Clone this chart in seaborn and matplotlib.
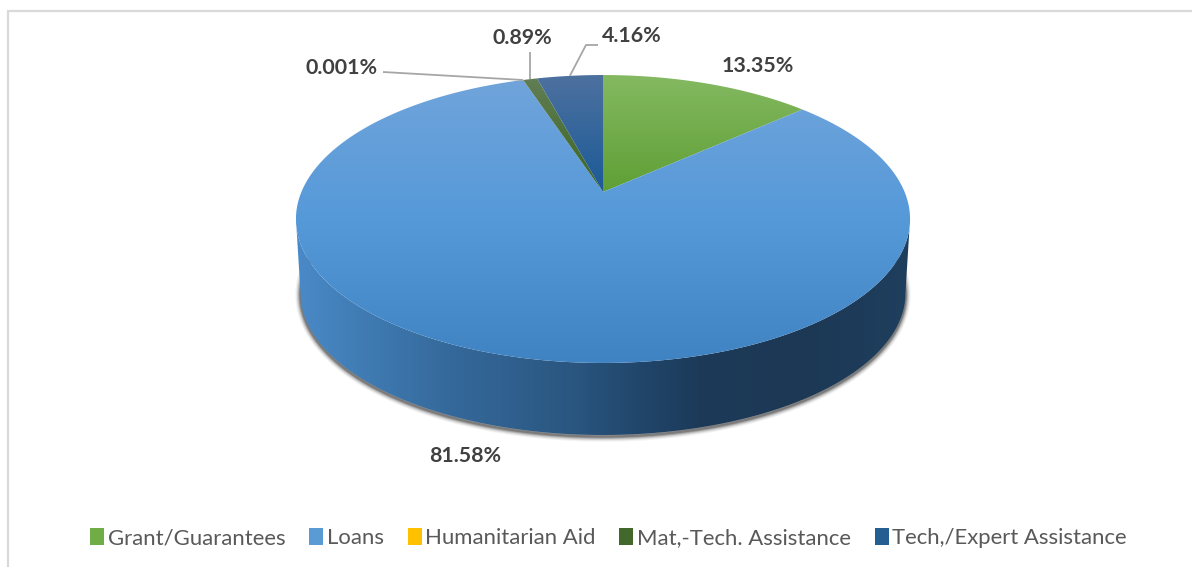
import numpy as np
import matplotlib
matplotlib.use("Agg")
import matplotlib.pyplot as plt
from matplotlib.colors import LinearSegmentedColormap
from matplotlib.patches import Patch, Polygon
import seaborn as sns

# Shares of assistance by type, in percent, clockwise from twelve o'clock
categories = ["Grant/Guarantees", "Loans", "Humanitarian Aid",
              "Mat,-Tech. Assistance", "Tech,/Expert Assistance"]
shares = [13.35, 81.58, 0.001, 0.89, 4.16]
share_labels = ["13.35%", "81.58%", "0.001%", "0.89%", "4.16%"]

base_colors = ["#70ad47", "#5b9bd5", "#ffc000", "#43682b", "#255e91"]
face_ramps = [["#84b961", "#5f9f35"],
              ["#70a4db", "#5599d9", "#4083c3"],
              ["#ffcf4d", "#f0b400"],
              ["#617e55", "#3b6420"],
              ["#4d719f", "#1b5a97"]]
side_ramp = [(0.00, "#4a8ac8"), (0.08, "#427fb8"), (0.25, "#35699b"),
             (0.45, "#2a5680"), (0.56, "#21466b"), (0.66, "#1c3a58"),
             (0.83, "#1c3855"), (1.00, "#1f3f5e")]

sns.set_theme(style="white")
plt.rcParams["font.family"] = ["Lato", "DejaVu Sans"]
palette = sns.color_palette(base_colors)

fig = plt.figure(figsize=(11.92, 5.67), dpi=100)
ax = fig.add_axes([0, 0, 1, 1])
ax.set_axis_off()

# Perspective view of a flat disc: near edge larger than far edge
CX, CY = 603.0, 192.0
TILT = 0.1875
SCALE_X, SCALE_Y = 301.6, 138.9
DEPTH, RIM_SCALE = 74.6, 0.985


def project(theta_deg, radius=1.0, drop=0.0, shrink=1.0):
    """Map clock angles on the unit disc to drawing coordinates (y grows down)."""
    t = np.radians(theta_deg)
    x, y = radius * np.sin(t), radius * np.cos(t)
    w = 1 + TILT * y
    return (CX + shrink * SCALE_X * x / w,
            CY + drop - shrink * SCALE_Y * y / w)


def gradient_fill(poly_xy, ramp, horizontal=False, zorder=3):
    xs, ys = poly_xy[:, 0], poly_xy[:, 1]
    cmap = LinearSegmentedColormap.from_list("ramp", ramp)
    field = np.linspace(0, 1, 512)
    field = field[None, :] if horizontal else field[:, None]
    img = ax.imshow(field, cmap=cmap, vmin=0, vmax=1, aspect="auto",
                    extent=[xs.min(), xs.max(), ys.max(), ys.min()],
                    zorder=zorder, interpolation="bilinear")
    clip = Polygon(poly_xy, closed=True, transform=ax.transData,
                   facecolor="none", edgecolor="none")
    ax.add_patch(clip)
    img.set_clip_path(clip)
    return img


fractions = np.asarray(shares) / np.sum(shares)
edges = np.concatenate([[0.0], np.cumsum(fractions)]) * 360.0

# Soft shadow hugging the lower rim
shadow_t = np.linspace(68, 292, 400)
sx, sy = project(shadow_t, drop=DEPTH + 1.5, shrink=RIM_SCALE)
for width, alpha in zip([7.5, 6, 4.8, 3.6, 2.6, 1.6], [.06, .08, .10, .14, .18, .25]):
    ax.plot(sx, sy, color="#222222", lw=width, alpha=alpha, zorder=1,
            solid_capstyle="butt")

# Visible side wall
lower = np.column_stack(project(np.linspace(100.8, 259.2, 400), drop=DEPTH, shrink=RIM_SCALE))
upper = np.column_stack(project(np.linspace(259.2, 100.8, 400)))
wall = np.vstack([lower, upper])
gradient_fill(wall, [(p, c) for p, c in side_ramp], horizontal=True, zorder=2)

# Top face, one wedge per share
for start, stop, ramp in zip(edges[:-1], edges[1:], face_ramps):
    steps = max(4, int((stop - start) * 3))
    arc = np.column_stack(project(np.linspace(start, stop, steps)))
    wedge = np.vstack([[CX, CY], arc])
    gradient_fill(wedge, ramp, zorder=3)

# Leader lines run from each small slice's rim to its label
mids = (edges[:-1] + edges[1:]) / 2
leader_kw = dict(color="#a6a6a6", lw=1.3, zorder=5, solid_capstyle="butt")
x2, y2 = project(mids[2])
ax.plot([383, x2], [72, y2], **leader_kw)
x3, y3 = project(mids[3])
ax.plot([x3, x3], [52, y3], **leader_kw)
x4, y4 = project(mids[4])
ax.plot([x4, 586, 598], [y4, 45, 45], **leader_kw)

label_spots = [(758, 65.5), (465, 455.5), (342, 67.5), (522, 37.5), (632, 36.5)]
for text, (lx, ly) in zip(share_labels, label_spots):
    ax.text(lx, ly, text, ha="center", va="center", fontsize=15.4,
            fontweight="bold", color="#404040", zorder=6)

# Chart frame, open on the right and bottom
ax.plot([7.5, 7.5, 1192], [567, 11, 11], color="#d9d9d9", lw=1.6, zorder=0,
        solid_joinstyle="miter")

handles = [Patch(facecolor=c, edgecolor="none") for c in palette]
ax.legend(handles, categories, ncol=5, loc="center", bbox_to_anchor=(608.5, 538),
          bbox_transform=ax.transData, frameon=False, fontsize=15.9,
          labelcolor="#595959", handlelength=0.64, handleheight=0.85,
          handletextpad=0.15, columnspacing=1.08, borderpad=0, borderaxespad=0)

ax.set_xlim(0, 1192)
ax.set_ylim(567, 0)
fig.savefig("out.png", dpi=100, facecolor="white")
